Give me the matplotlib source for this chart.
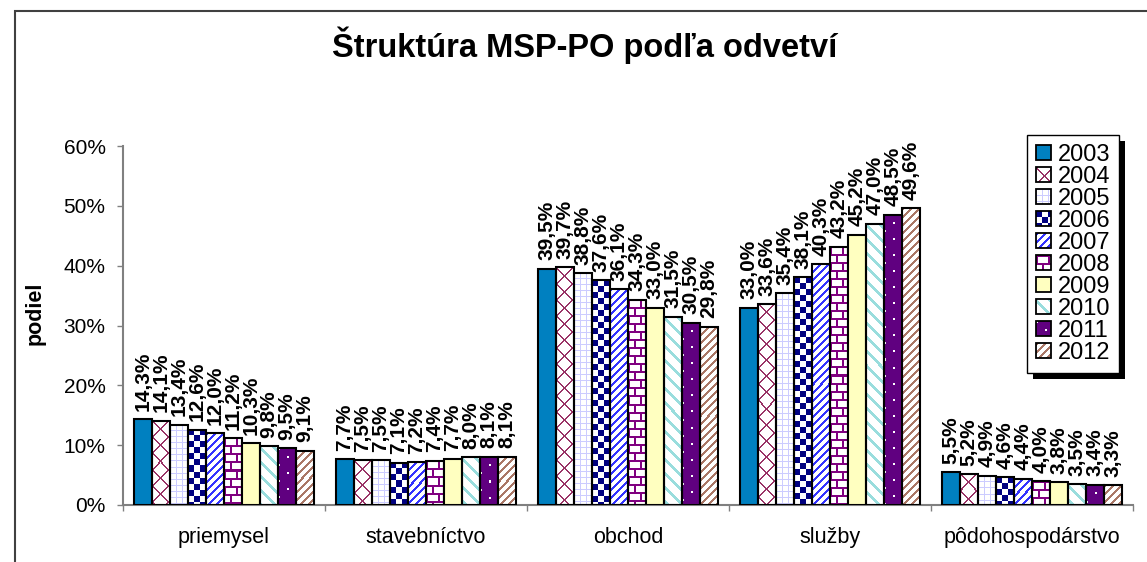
import numpy as np
import matplotlib
matplotlib.use("Agg")
import matplotlib.pyplot as plt
from matplotlib.patches import Rectangle, Patch
from matplotlib.legend_handler import HandlerBase
from matplotlib.colors import to_rgb
from matplotlib.transforms import IdentityTransform

plt.rcParams['font.family'] = ['Liberation Sans', 'DejaVu Sans']

# ---------------- data ----------------
categories = ['priemysel', 'stavebníctvo', 'obchod', 'služby', 'pôdohospodárstvo']
years = ['2003', '2004', '2005', '2006', '2007', '2008', '2009', '2010', '2011', '2012']
v2003 = [14.3, 7.7, 39.5, 33.0, 5.5]
v2004 = [14.1, 7.5, 39.7, 33.6, 5.2]
v2005 = [13.4, 7.5, 38.8, 35.4, 4.9]
v2006 = [12.6, 7.1, 37.6, 38.1, 4.6]
v2007 = [12.0, 7.2, 36.1, 40.3, 4.4]
v2008 = [11.2, 7.4, 34.3, 43.2, 4.0]
v2009 = [10.3, 7.7, 33.0, 45.2, 3.8]
v2010 = [9.8, 8.0, 31.5, 47.0, 3.5]
v2011 = [9.5, 8.1, 30.5, 48.5, 3.4]
v2012 = [9.1, 8.1, 29.8, 49.6, 3.3]
series = [v2003, v2004, v2005, v2006, v2007, v2008, v2009, v2010, v2011, v2012]
yticks = [0, 10, 20, 30, 40, 50, 60]
title = 'Štruktúra MSP-PO podľa odvetví'
ylabel = 'podiel'


# ---------------- pixel patterns ----------------
def pat_diamond(i, j):
    return ((i + j) % 16 < 2) | ((i - j) % 16 < 2)


def pat_grid(i, j):
    return (i % 6 < 1) | (j % 6 < 1)


def pat_checker(i, j):
    return ((i // 6) + (j // 6)) % 2 == 0


def pat_diag_up(i, j):
    return (i + j) % 8 < 3


def pat_brick(i, j):
    r = i % 16
    off = np.where(r < 8, 0, 6)
    return (r % 8 < 2) | ((j + off) % 12 < 2)


def pat_wide_down(i, j):
    return (i - j) % 14 < 4


def pat_dots(i, j):
    a = (i % 16 < 2) & (j % 18 < 2)
    b = ((i + 8) % 16 < 2) & ((j + 9) % 18 < 2)
    return a | b


# (foreground, background, pattern)
styles = [
    ('#0080C0', '#0080C0', None),
    ('#993366', '#FFFFFF', pat_diamond),
    ('#CCCCFF', '#FFFFFF', pat_grid),
    ('#000080', '#FFFFFF', pat_checker),
    ('#3333FF', '#FFFFFF', pat_diag_up),
    ('#800080', '#FFFFFF', pat_brick),
    ('#FFFFC0', '#FFFFC0', None),
    ('#99DDDD', '#FFFFFF', pat_wide_down),
    ('#FFFFFF', '#600080', pat_dots),
    ('#AA7766', '#FFFFFF', pat_diag_up),
]


def pattern_image(func, fg, bg, ph, pw):
    I, J = np.indices((ph, pw))
    m = func(I, J) if func is not None else np.zeros((ph, pw), bool)
    arr = np.empty((ph, pw, 3))
    arr[:] = to_rgb(bg)
    arr[m] = to_rgb(fg)
    return arr


class HandlerPattern(HandlerBase):
    def __init__(self, fg, bg, func):
        super().__init__()
        self.fg, self.bg, self.func = fg, bg, func

    def create_artists(self, legend, orig_handle, xdescent, ydescent,
                       width, height, fontsize, trans):
        x0, y0 = -xdescent, -ydescent
        s = legend.get_figure(root=True).dpi / 72.0
        pw = max(1, int(round(width * s)))
        ph = max(1, int(round(height * s)))
        arts = [Rectangle((x0, y0), width, height, facecolor=self.bg,
                          edgecolor='none', lw=0, transform=trans)]
        if self.func is not None:
            I, J = np.indices((ph, pw))
            m = self.func(I, J)
            for i, j in np.argwhere(m):
                arts.append(Rectangle((x0 + j / s, y0 + height - (i + 1) / s),
                                      1 / s, 1 / s, facecolor=self.fg,
                                      edgecolor='none', lw=0,
                                      antialiased=False, transform=trans))
        arts.append(Rectangle((x0, y0), width, height, fill=False,
                              edgecolor='black', lw=1.3, transform=trans))
        return arts


# ---------------- figure ----------------
W, H = 1147, 562
fig = plt.figure(figsize=(W / 100, H / 100), dpi=100)
ax_l, ax_r, ax_t, ax_b = 123, 1133, 146, 505
ax = fig.add_axes([ax_l / W, 1 - ax_b / H, (ax_r - ax_l) / W, (ax_b - ax_t) / H])
ax.set_xlim(-0.5, len(categories) - 0.5)
ax.set_ylim(0, 60)

x = np.arange(len(categories))
n = len(series)
bw = 0.089

for k, (vals, (fg, bg, func)) in enumerate(zip(series, styles)):
    xs = x + (k - (n - 1) / 2) * bw
    if func is None:
        bars = ax.bar(xs, vals, bw, color=fg, edgecolor='black', linewidth=1.5, zorder=3)
    else:
        bars = ax.bar(xs, vals, bw, fill=False, edgecolor='black', linewidth=1.5, zorder=3)
        for rect in bars:
            x0, w, h = rect.get_x(), rect.get_width(), rect.get_height()
            p0 = ax.transData.transform((x0, 0))
            p1 = ax.transData.transform((x0 + w, h))
            pw = max(1, int(round(p1[0] - p0[0])))
            ph = max(1, int(round(p1[1] - p0[1])))
            img = pattern_image(func, fg, bg, ph, pw)
            ax.imshow(img, extent=(x0, x0 + w, 0, h), aspect='auto',
                      interpolation='nearest', origin='upper', zorder=2)
    labels = [f"{v:.1f}%".replace('.', ',') for v in vals]
    ax.bar_label(bars, labels=labels, rotation=90, padding=6,
                 fontsize=15, fontweight='bold', zorder=4)

ax.set_xlim(-0.5, len(categories) - 0.5)
ax.set_ylim(0, 60)

# axes styling
for side in ('top', 'right'):
    ax.spines[side].set_visible(False)
for side in ('left', 'bottom'):
    ax.spines[side].set_color('#808080')
    ax.spines[side].set_linewidth(1.5)

ax.set_yticks(yticks)
ax.set_yticklabels([f"{t}%" for t in yticks])
ax.tick_params(axis='y', length=4.5, width=1, color='#808080', pad=8, labelsize=15)
ax.set_xticks(x)
ax.set_xticklabels(categories)
ax.tick_params(axis='x', which='major', length=0, pad=16, labelsize=15.5)
ax.set_xticks(np.arange(-0.5, len(categories), 1), minor=True)
ax.tick_params(axis='x', which='minor', length=4.5, width=1, color='#808080', direction='out')

ax.set_ylabel(ylabel, fontsize=15.5, fontweight='bold')
ax.yaxis.set_label_coords((46 - ax_l) / (ax_r - ax_l), (ax_b - 313) / (ax_b - ax_t))

fig.text(585 / W, 1 - 45 / H, title, ha='center', va='center',
         fontsize=23.5, fontweight='bold')

# legend
handles = [Patch(label=y) for y in years]
hmap = {h: HandlerPattern(*st) for h, st in zip(handles, styles)}
leg = ax.legend(handles=handles, labels=years, handler_map=hmap,
                loc='upper left', bbox_to_anchor=(1027 / W, 1 - 135 / H),
                bbox_transform=fig.transFigure, borderaxespad=0,
                frameon=True, fancybox=False, edgecolor='black', framealpha=1,
                fontsize=17, handlelength=0.64, handleheight=0.6,
                handletextpad=0.28, labelspacing=0.0, borderpad=0.38)
leg.get_frame().set_linewidth(1.0)
leg.set_zorder(6)

fig.canvas.draw()
bb = leg.get_window_extent()
shadow = Rectangle((bb.x0 + 6, bb.y0 - 6), bb.width, bb.height,
                   transform=IdentityTransform(), facecolor='black',
                   edgecolor='none', zorder=5.5, clip_on=False)
ax.add_artist(shadow)

# chart border
fig.add_artist(Rectangle((15 / W, -0.1), 1.2, 1.1 - 11 / H, transform=fig.transFigure,
                         fill=False, edgecolor='#404040', lw=1.5))

fig.savefig('out.png', dpi=100)
